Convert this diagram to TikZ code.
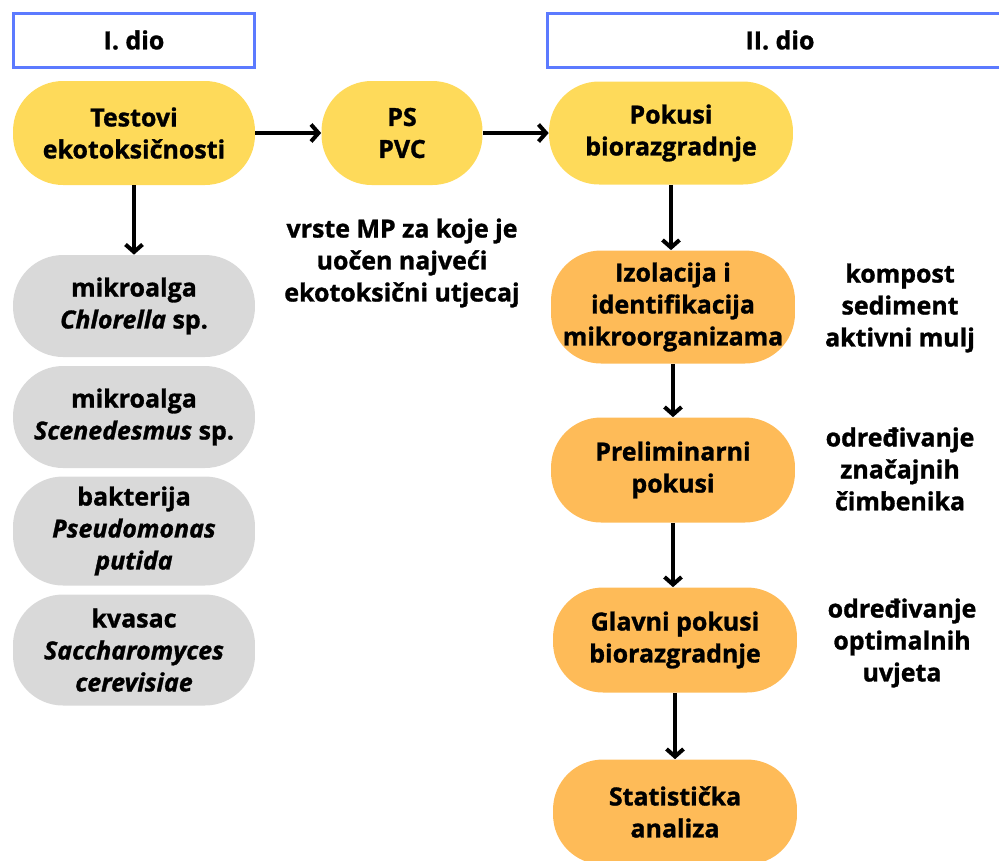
\documentclass[tikz,border=0pt]{standalone}
\usepackage{fontspec}
\setmainfont{Open Sans}[BoldFeatures={FakeBold=1.2}, BoldItalicFeatures={FakeBold=1.2}]
\usetikzlibrary{arrows.meta}
\definecolor{sun}{RGB}{254, 218, 90}
\definecolor{amber}{RGB}{254, 187, 88}
\definecolor{ash}{RGB}{217, 217, 217}
\definecolor{frame}{RGB}{92, 122, 255}

\tikzset{
  pill/.style={rectangle, rounded corners=1cm, draw=none, align=center, minimum width=4.84cm, font=\fontsize{14.2}{18.2}\selectfont\bfseries},
  part/.style={rectangle, draw=frame, line width=0.06cm, fill=white, minimum height=1.08cm, font=\fontsize{14.2}{18.2}\selectfont\bfseries},
  note/.style={align=center, font=\fontsize{14.2}{18.2}\selectfont\bfseries},
  flow/.style={-{Straight Barb[length=0.15cm, width=0.34cm, line width=0.08cm]}, line width=0.08cm}
}

\begin{document}
\begin{tikzpicture}[x=0.02cm, y=-0.02cm]
  \useasboundingbox (0, 0) rectangle (999, 860);

  % headers
  \node[part, minimum width=4.84cm] (dioI) at (134, 40) {I. dio};
  \node[part, minimum width=9.3cm] (dioII) at (780, 40) {II. dio};

  % first part
  \node[pill, fill=sun, minimum height=2.08cm] (testovi) at (134, 133) {Testovi\\ekotoksičnosti};
  \node[pill, fill=sun, minimum width=3.22cm, minimum height=2.08cm] (ps) at (402, 133) {PS\\PVC};
  \node[note] (vrste) at (402, 263) {vrste MP za koje je\\uočen najveći\\ekotoksični utjecaj};

  \foreach \name/\y/\h/\txt in {chlorella/306/2.04cm/{mikroalga\\\textit{Chlorella} sp.}, scenedesmus/417/2.04cm/{mikroalga\\\textit{Scenedesmus} sp.}, pseudomonas/531/2.18cm/{bakterija\\\textit{Pseudomonas}\\\textit{putida}}, saccharomyces/650/2.22cm/{kvasac\\\textit{Saccharomyces}\\\textit{cerevisiae}}} {
    \node[pill, fill=ash, minimum height=\h] (\name) at (134, \y) {\txt};
  }

  % second part
  \node[pill, fill=sun, minimum width=4.88cm, minimum height=2.06cm] (pokusi) at (671, 133) {Pokusi\\biorazgradnje};
  \node[pill, fill=amber, minimum width=4.88cm, minimum height=2.26cm] (izolacija) at (673, 307) {Izolacija i\\identifikacija\\mikroorganizama};
  \node[pill, fill=amber, minimum width=4.88cm, minimum height=2.1cm] (preliminarni) at (673, 470) {Preliminarni\\pokusi};
  \node[pill, fill=amber, minimum width=4.88cm, minimum height=2.1cm] (glavni) at (675, 640) {Glavni pokusi\\biorazgradnje};
  \node[pill, fill=amber, minimum width=4.88cm, minimum height=2.1cm] (statisticka) at (675, 812) {Statistička\\analiza};

  \node[note] (uzorci) at (900, 308) {kompost\\sediment\\aktivni mulj};
  \node[note] (cimbenici) at (900, 469) {određivanje\\značajnih\\čimbenika};
  \node[note] (uvjeti) at (902, 643) {određivanje\\optimalnih\\uvjeta};

  % connectors
  \draw[flow] (testovi.east) -- (ps.west);
  \draw[flow] (ps.east) -- (pokusi.west);
  \draw[flow] (testovi.south) -- (testovi.south |- chlorella.north);
  \draw[flow] (pokusi.south) -- (pokusi.south |- izolacija.north);
  \draw[flow] (izolacija.south) -- (izolacija.south |- preliminarni.north);
  \draw[flow] (preliminarni.south) -- (preliminarni.south |- glavni.north);
  \draw[flow] (glavni.south) -- (glavni.south |- statisticka.north);
\end{tikzpicture}
\end{document}
